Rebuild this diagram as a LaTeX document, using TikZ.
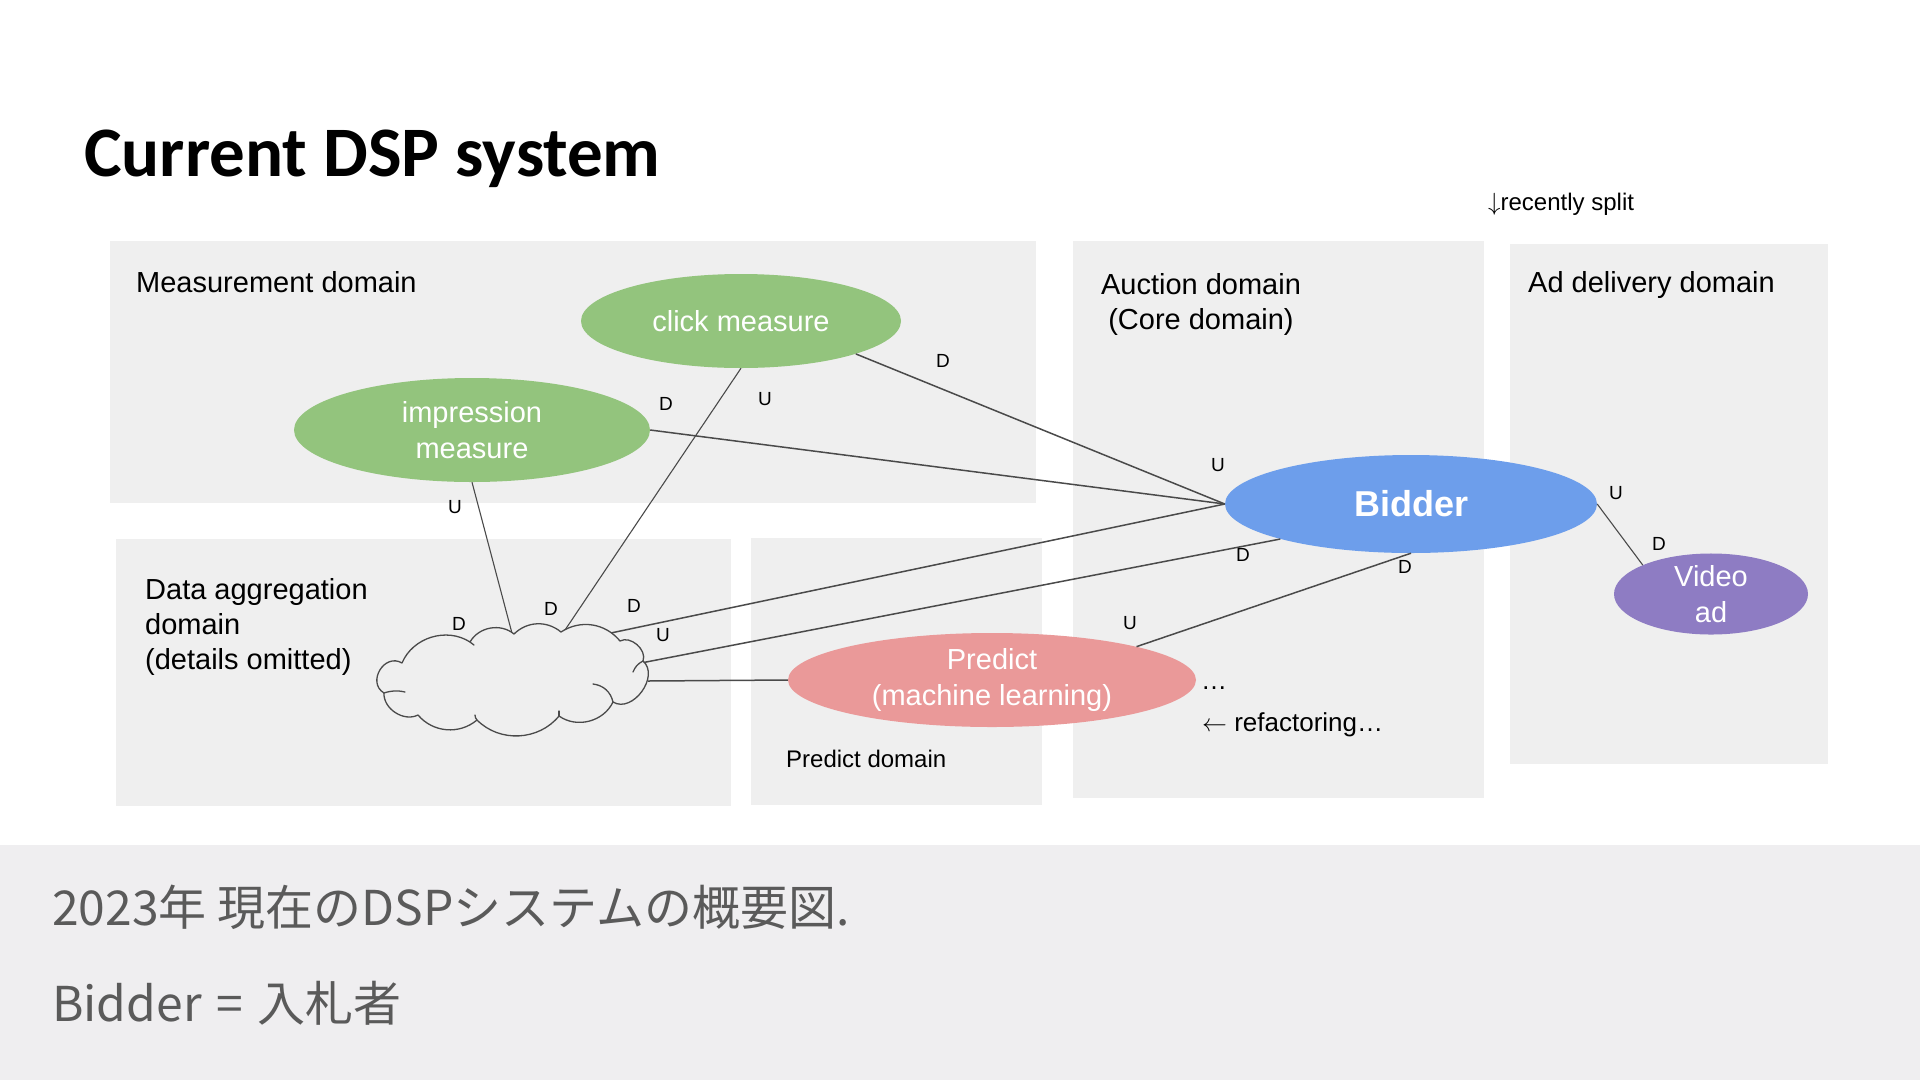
\documentclass[tikz,border=0pt]{standalone}
\usepackage{fontspec}
\setmainfont{Liberation Sans}
\newfontfamily\cjk{Noto Sans CJK JP}
\newfontfamily\titlefont{Carlito}
\usetikzlibrary{shapes.geometric}
\definecolor{boxgray}{HTML}{EFEFEF}
\definecolor{bandgray}{HTML}{EFEEF0}
\definecolor{mgreen}{HTML}{93C47D}
\definecolor{bblue}{HTML}{6D9EEB}
\definecolor{vpurple}{HTML}{8E7CC3}
\definecolor{ppink}{HTML}{EA9999}
\definecolor{linec}{HTML}{4A4A4A}
\definecolor{capc}{HTML}{5A5A5A}
\tikzset{
  domainbox/.style={fill=boxgray, draw=none, inner sep=0pt, anchor=north west},
  oval/.style={ellipse, inner sep=0pt, text=white, align=center, font=\fontsize{29}{36}\selectfont},
  link/.style={draw=linec, line width=1.5pt},
  thinlink/.style={draw=linec, line width=1.1pt},
  cloudline/.style={draw=linec, line width=1.3pt, line join=round, line cap=round},
  du/.style={font=\fontsize{19}{22}\selectfont, inner sep=0pt, text=black},
  dlabel/.style={font=\fontsize{29}{35}\selectfont, inner sep=0pt, anchor=base west, align=left},
  small/.style={font=\fontsize{24}{28}\selectfont, inner sep=0pt, anchor=base west},
}
\begin{document}
\begin{tikzpicture}[x=1pt, y=-1pt]
\useasboundingbox (0,0) rectangle (1920,1080);
\fill[white] (0,0) rectangle (1920,1080);
\fill[bandgray] (0,845) rectangle (1920,1080);

% title
\node[inner sep=0pt, anchor=base west, font=\titlefont\bfseries\fontsize{71}{76}\selectfont] (title) at (84,176) {Current DSP system};

% domain boxes
\node[domainbox, minimum width=926pt, minimum height=262pt] (mbox) at (110,241) {};
\node[domainbox, minimum width=615pt, minimum height=267pt] (dbox) at (116,539) {};
\node[domainbox, minimum width=291pt, minimum height=267pt] (pbox) at (751,538) {};
\node[domainbox, minimum width=411pt, minimum height=557pt] (aucbox) at (1073,241) {};
\node[domainbox, minimum width=318pt, minimum height=520pt] (adbox) at (1510,244) {};

% domain labels (base = last line)
\node[dlabel] (mlab) at (136,292) {Measurement domain};
\node[dlabel] (dlab) at (145,669) {Data aggregation\\domain\\(details omitted)};
\node[dlabel, align=center, anchor=base] (alab) at (1201,329) {Auction domain\\(Core domain)};
\node[dlabel] (adlab) at (1528,292) {Ad delivery domain};
\node[small] (plab) at (786,767) {Predict domain};
\node[small] (split) at (1488,210) {$\downarrow$recently split};
\node[inner sep=0pt, anchor=base west, font=\fontsize{26}{30}\selectfont] (dots) at (1201,689) {\char"2026};
\node[inner sep=0pt, anchor=base west, font=\fontsize{26}{30}\selectfont] (refac) at (1202,731) {$\leftarrow$ refactoring\char"2026};

% ellipses
\node[oval, fill=mgreen, minimum width=320pt, minimum height=94pt] (click) at (741,321) {click measure};
\node[oval, fill=mgreen, minimum width=356pt, minimum height=104pt] (impr) at (472,430) {impression\\measure};
\node[oval, fill=bblue, minimum width=372pt, minimum height=98pt, font=\bfseries\fontsize{36}{40}\selectfont] (bidder) at (1411,504) {Bidder};
\node[oval, fill=vpurple, minimum width=194pt, minimum height=80pt] (video) at (1711,594) {Video\\ad};
\node[oval, fill=ppink, minimum width=408pt, minimum height=94pt] (predict) at (992,680) {Predict\\(machine learning)};

% cloud (data aggregation) and its attachment points
\coordinate (cloud) at (513,681);
\coordinate (cImp) at (513,637);
\coordinate (cClk) at (561,636);
\coordinate (cUp) at (606,634);
\coordinate (cLow) at (641,663);
\coordinate (cPre) at (648,681);

% connectors
\draw[link] (click.-16) -- (bidder.west);
\draw[link] (impr.east) -- (bidder.west);
\draw[thinlink] (click.south) -- (cClk);
\draw[thinlink] (impr.south) -- (cImp);
\draw[link] (cUp) -- (bidder.west);
\draw[link] (cLow) -- (bidder.195);
\draw[link] (cPre) -- (predict.west);
\draw[link] (predict.13) -- (bidder.south);
\draw[thinlink] (bidder.east) -- (video.157);

\draw[cloudline, fill=boxgray]
  (402,663) to[bend left=50] (470,642)
            to[bend left=50] (514,634)
            to[bend left=42] (561,632)
            to[bend left=42] (620,641)
            to[bend left=70] (643,661)
            to[bend left=85, looseness=1.15] (613,702)
            to[bend left=50] (559,716)
            to[bend left=48] (477,720)
            to[bend left=45] (418,715)
            to[bend left=60] (384,693)
            to[bend left=90, looseness=1.5] (402,663) -- cycle;
% inner hooks of the cloud
\draw[cloudline] (593,684) to[bend left=35] (613,702);
\draw[cloudline] (633,672) to[bend left=20] (643,661);
\draw[cloudline] (384,693) to[bend left=15] (405,692);
\draw[cloudline] (470,642) to[bend left=20] (474,645);
\draw[cloudline] (559,716) to[bend right=20] (559,711);
\draw[cloudline] (477,720) to[bend left=20] (475,715);

% U / D labels
\node[du] (d1) at (943,361) {D};
\node[du] (u1) at (1218,465) {U};
\node[du] (d2) at (666,404) {D};
\node[du] (u3) at (765,399) {U};
\node[du] (d3) at (551,609) {D};
\node[du] (u4) at (455,507) {U};
\node[du] (d4) at (459,624) {D};
\node[du] (d5) at (634,606) {D};
\node[du] (u6) at (663,635) {U};
\node[du] (d6) at (1243,555) {D};
\node[du] (u8) at (1130,623) {U};
\node[du] (d8) at (1405,567) {D};
\node[du] (u9) at (1616,493) {U};
\node[du] (d9) at (1659,544) {D};

% caption
\node[inner sep=0pt, anchor=base west, text=capc, font=\cjk\fontsize{48}{56}\selectfont] (cap1) at (52,925) {2023年 現在のDSPシステムの概要図.};
\node[inner sep=0pt, anchor=base west, text=capc, font=\cjk\fontsize{48}{56}\selectfont] (cap2) at (52,1021) {Bidder\hspace{4pt} = \hspace{4pt}入札者};
\end{tikzpicture}
\end{document}
